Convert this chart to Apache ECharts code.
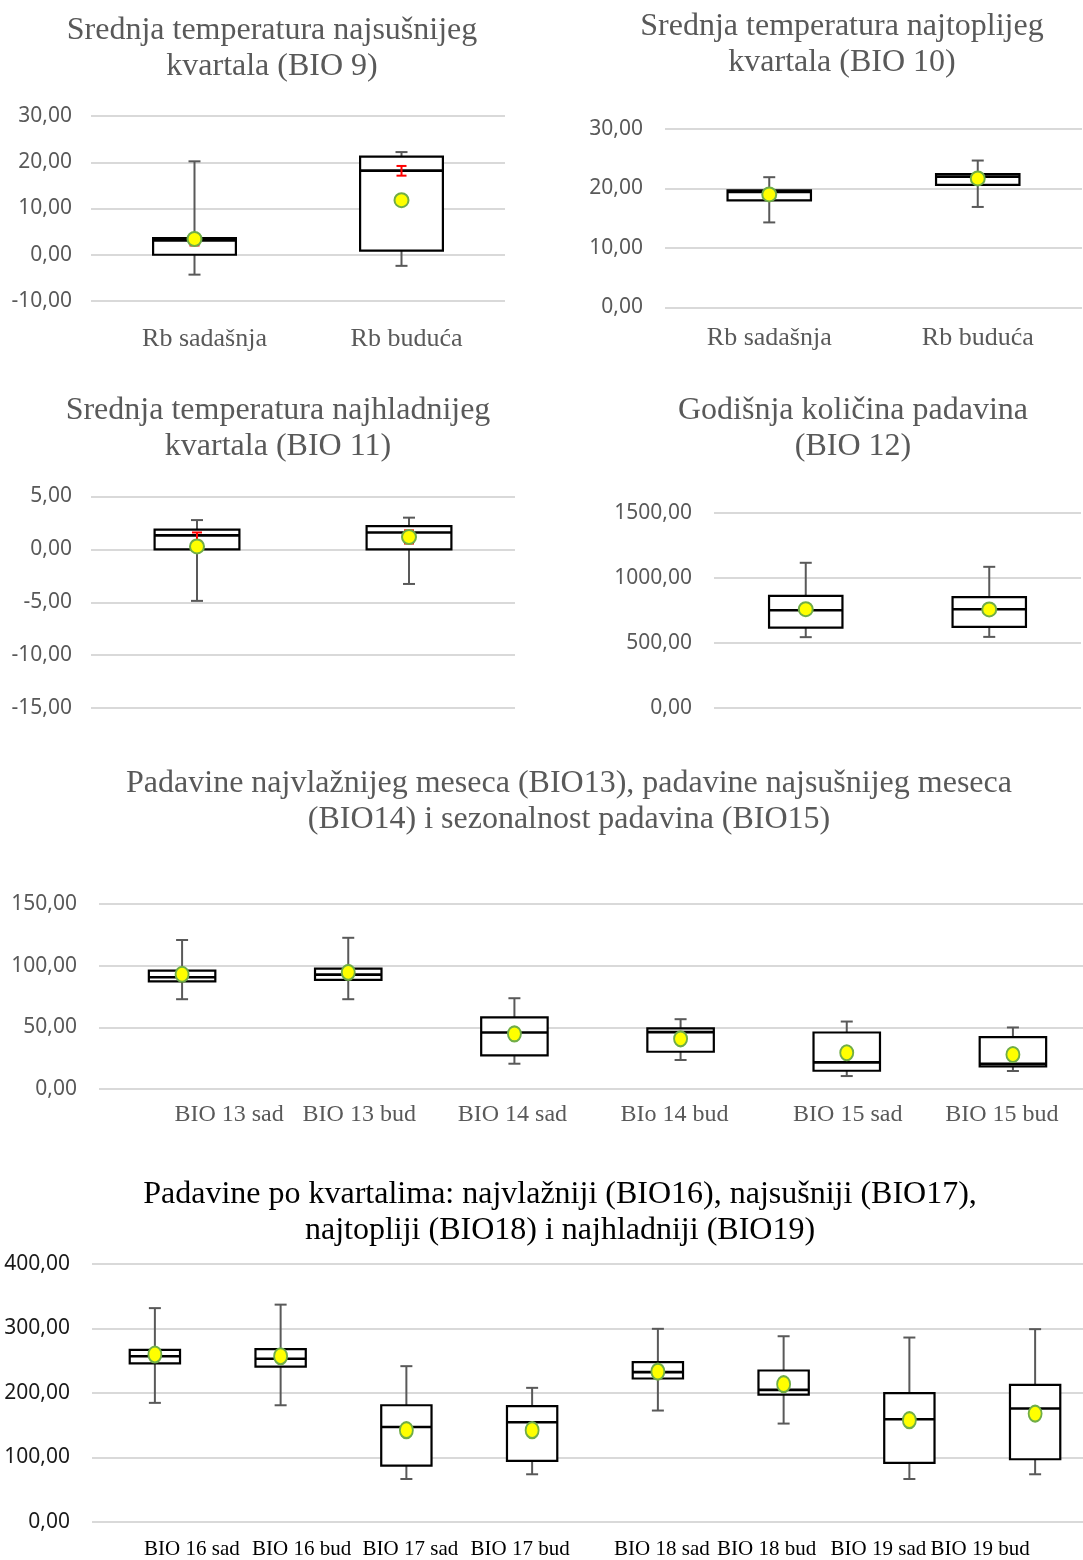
<!DOCTYPE html>
<html><head><meta charset="utf-8">
<script src="https://cdn.jsdelivr.net/npm/echarts@6/dist/echarts.min.js"></script>
<style>html,body{margin:0;padding:0;background:#fff;overflow:hidden}#c{width:1110px;height:1560px}</style>
</head><body><div id="c"></div>
<script>
// ---------- DATA ----------
// box rows: [min, Q1, median, Q3, max]
const bio9Cats = ['Rb sadašnja', 'Rb buduća'];
const bio9Box = [[-4.3, 0.0, 3.1, 3.6, 20.2], [-2.4, 0.9, 18.2, 21.2, 22.2]];
const bio9Mean = [3.4, 11.8];
const bio9Err = [[2.0, 3.0], [17.1, 19.2]];
const bio9Ticks = [-10, 0, 10, 20, 30];

const bio10Cats = ['Rb sadašnja', 'Rb buduća'];
const bio10Box = [[14.3, 18.0, 19.4, 19.7, 21.9], [16.9, 20.6, 22.0, 22.4, 24.7]];
const bio10Mean = [19.0, 21.7];
const bio10Ticks = [0, 10, 20, 30];

const bio11Cats = ['Rb sadašnja', 'Rb buduća'];
const bio11Box = [[-4.87, 0.0, 1.32, 1.86, 2.77], [-3.27, 0.0, 1.6, 2.2, 3.0]];
const bio11Mean = [0.28, 1.17];
const bio11Err = [[0.8, 1.6], [0.55, 1.8]];
const bio11Ticks = [-15, -10, -5, 0, 5];

const bio12Cats = ['Rb sadašnja', 'Rb buduća'];
const bio12Box = [[545, 619, 752, 862, 1117], [547, 624, 760, 853, 1086]];
const bio12Mean = [760, 758];
const bio12Ticks = [0, 500, 1000, 1500];

const bio1315Cats = ['BIO 13 sad', 'BIO 13 bud', 'BIO 14 sad', 'BIo 14 bud', 'BIO 15 sad', 'BIO 15 bud'];
const bio1315Box = [
  [72.8, 87.3, 90.6, 96.0, 120.8],
  [72.8, 88.4, 92.7, 97.6, 122.6],
  [20.5, 27.2, 45.8, 58.0, 73.6],
  [23.5, 30.2, 46.1, 49.1, 56.6],
  [10.5, 14.8, 21.6, 45.8, 54.7],
  [14.6, 18.3, 20.5, 42.0, 49.9]
];
const bio1315Mean = [93.0, 94.6, 44.7, 40.7, 29.4, 28.0];
const bio1315Ticks = [0, 50, 100, 150];

const bio1619Cats = ['BIO 16 sad', 'BIO 16 bud', 'BIO 17 sad', 'BIO 17 bud', 'BIO 18 sad', 'BIO 18 bud', 'BIO 19 sad', 'BIO 19 bud'];
const bio1619Box = [
  [184.7, 246.0, 257.0, 267.0, 331.6],
  [181.0, 241.0, 253.0, 268.0, 337.0],
  [66.7, 87.4, 147.4, 181.0, 241.6],
  [74.0, 94.7, 154.7, 179.5, 208.0],
  [172.8, 222.5, 232.3, 247.8, 299.5],
  [152.6, 197.6, 204.9, 234.9, 288.0],
  [66.7, 91.6, 159.3, 199.7, 286.0],
  [74.0, 97.3, 175.9, 212.6, 299.0]
];
const bio1619Mean = [259.7, 257.0, 142.3, 142.3, 233.3, 213.7, 157.8, 168.1];
const bio1619Ticks = [0, 100, 200, 300, 400];

// ---------- STYLE / RENDER ----------
const GRAY = '#595959';
const SERIF = '"Liberation Serif", "Times New Roman", serif';
const SANS = '"Noto Sans", "Open Sans", sans-serif';
const fmt = v => v.toFixed(2).replace('.', ',');

function boxRender(params, api) {
  const x = api.value(0);
  const p = [1, 2, 3, 4, 5].map(i => api.coord([x, api.value(i)]));
  const band = api.size([1, 0])[0];
  const w = band * 0.4;
  const cx = p[0][0];
  const yMin = p[0][1], yQ1 = p[1][1], yMed = p[2][1], yQ3 = p[3][1], yMax = p[4][1];
  const cap = 12;
  const ws = { stroke: GRAY, lineWidth: 2 };
  return {
    type: 'group', children: [
      { type: 'line', shape: { x1: cx, y1: yMax, x2: cx, y2: yQ3 }, style: ws },
      { type: 'line', shape: { x1: cx - cap / 2, y1: yMax, x2: cx + cap / 2, y2: yMax }, style: ws },
      { type: 'line', shape: { x1: cx, y1: yMin, x2: cx, y2: yQ1 }, style: ws },
      { type: 'line', shape: { x1: cx - cap / 2, y1: yMin, x2: cx + cap / 2, y2: yMin }, style: ws },
      { type: 'rect', shape: { x: cx - w / 2, y: yQ3, width: w, height: yQ1 - yQ3 }, style: { fill: '#fff', stroke: '#000', lineWidth: 2.2 } },
      { type: 'line', shape: { x1: cx - w / 2, y1: yMed, x2: cx + w / 2, y2: yMed }, style: { stroke: '#000', lineWidth: 2.6 } }
    ]
  };
}
function errRender(params, api) {
  const x = api.value(0);
  const lo = api.coord([x, api.value(1)]);
  const hi = api.coord([x, api.value(2)]);
  const cx = lo[0], cap = 10;
  const s = { stroke: '#ff0000', lineWidth: 2 };
  return {
    type: 'group', children: [
      { type: 'line', shape: { x1: cx, y1: lo[1], x2: cx, y2: hi[1] }, style: s },
      { type: 'line', shape: { x1: cx - cap / 2, y1: lo[1], x2: cx + cap / 2, y2: lo[1] }, style: s },
      { type: 'line', shape: { x1: cx - cap / 2, y1: hi[1], x2: cx + cap / 2, y2: hi[1] }, style: s }
    ]
  };
}

const panels = [
  { cats: bio9Cats, box: bio9Box, mean: bio9Mean, err: bio9Err, ticks: bio9Ticks,
    grid: { left: 91, width: 414, top: 116, height: 185 }, xl: { show: true, margin: 25, size: 26, color: GRAY, shift: [10, 5] }, yl: { size: 21, color: GRAY, margin: 19 }, ms: 14 },
  { cats: bio10Cats, box: bio10Box, mean: bio10Mean, err: null, ticks: bio10Ticks,
    grid: { left: 665, width: 417, top: 129, height: 178.5 }, xl: { show: true, margin: 18, size: 26, color: GRAY, shift: [0, 0] }, yl: { size: 21, color: GRAY, margin: 22 }, ms: 14 },
  { cats: bio11Cats, box: bio11Box, mean: bio11Mean, err: bio11Err, ticks: bio11Ticks,
    grid: { left: 91, width: 424, top: 496.5, height: 211.5 }, xl: { show: false }, yl: { size: 21, color: GRAY, margin: 19 }, ms: 14 },
  { cats: bio12Cats, box: bio12Box, mean: bio12Mean, err: null, ticks: bio12Ticks,
    grid: { left: 714, width: 367, top: 513, height: 195 }, xl: { show: false }, yl: { size: 21, color: GRAY, margin: 22 }, ms: 14 },
  { cats: bio1315Cats, box: bio1315Box, mean: bio1315Mean, err: null, ticks: bio1315Ticks,
    grid: { left: 99, width: 997, top: 904, height: 185 }, xl: { show: true, margin: 14, size: 24, color: GRAY, shift: [47, 11, -2, -6, 1, -11] }, yl: { size: 21, color: GRAY, margin: 22 }, ms: [13, 15] },
  { cats: bio1619Cats, box: bio1619Box, mean: bio1619Mean, err: null, ticks: bio1619Ticks,
    grid: { left: 92, width: 1006, top: 1264, height: 258 }, xl: { show: true, margin: 17, size: 21, color: '#000', shift: [37, 21, 4, -12, 4, -17, -31, -55] }, yl: { size: 21, color: '#1a1a1a', margin: 22 }, ms: [13, 16] }
];

const grids = [], xAxes = [], yAxes = [], series = [];
panels.forEach((p, i) => {
  grids.push(Object.assign({ containLabel: false }, p.grid));
  const rich = {};
  const shifts = p.xl.shift || [];
  shifts.forEach((s, k) => {
    rich['o' + k] = {
      fontFamily: SERIF, fontSize: p.xl.size, color: p.xl.color,
      padding: s >= 0 ? [0, 0, 0, 2 * s] : [0, -2 * s, 0, 0]
    };
  });
  xAxes.push({
    type: 'category', gridIndex: i, data: p.cats, boundaryGap: true,
    axisLine: { show: false }, axisTick: { show: false }, splitLine: { show: false },
    axisLabel: {
      show: p.xl.show, margin: p.xl.margin || 0, fontFamily: SERIF, fontSize: p.xl.size || 20,
      color: p.xl.color || GRAY, interval: 0, hideOverlap: false,
      formatter: (val, idx) => '{o' + idx + '|' + val + '}',
      rich: rich
    }
  });
  yAxes.push({
    type: 'value', gridIndex: i,
    min: p.ticks[0], max: p.ticks[p.ticks.length - 1], interval: p.ticks[1] - p.ticks[0],
    axisLine: { show: false }, axisTick: { show: false },
    splitLine: { show: true, lineStyle: { color: '#d9d9d9', width: 2 } },
    axisLabel: { formatter: fmt, margin: p.yl.margin, fontFamily: SANS, fontSize: p.yl.size, color: p.yl.color }
  });
  series.push({
    type: 'custom', xAxisIndex: i, yAxisIndex: i, z: 2,
    renderItem: boxRender,
    encode: { x: 0, y: [1, 2, 3, 4, 5] },
    data: p.box.map((b, k) => [k].concat(b)),
    silent: true
  });
  if (p.err) {
    series.push({
      type: 'custom', xAxisIndex: i, yAxisIndex: i, z: 3,
      renderItem: errRender,
      encode: { x: 0, y: [1, 2] },
      data: p.err.map((e, k) => [k].concat(e)),
      silent: true
    });
  }
  series.push({
    type: 'scatter', xAxisIndex: i, yAxisIndex: i, z: 4,
    symbol: 'circle', symbolSize: p.ms,
    itemStyle: { color: '#ffff00', borderColor: '#70ad47', borderWidth: 2, opacity: 1 },
    data: p.mean.map((m, k) => [k, m]),
    silent: true
  });
});

function title(text, x, y, color) {
  return {
    type: 'text', x: x, y: y,
    style: { text: text, fill: color || GRAY, font: '32px ' + SERIF, textAlign: 'center', textVerticalAlign: 'middle', lineHeight: 36 }
  };
}

const chart = echarts.init(document.getElementById('c'), null, { renderer: 'canvas' });
chart.setOption({
  animation: false,
  backgroundColor: '#fff',
  grid: grids,
  xAxis: xAxes,
  yAxis: yAxes,
  series: series,
  graphic: [
    title('Srednja temperatura najsušnijeg\nkvartala (BIO 9)', 272, 49),
    title('Srednja temperatura najtoplijeg\nkvartala (BIO 10)', 842, 44.5),
    title('Srednja temperatura najhladnijeg\nkvartala (BIO 11)', 278, 429),
    title('Godišnja količina padavina\n(BIO 12)', 853, 429),
    title('Padavine najvlažnijeg meseca (BIO13), padavine najsušnijeg meseca\n(BIO14) i sezonalnost padavina (BIO15)', 569, 802),
    title('Padavine po kvartalima: najvlažniji (BIO16), najsušniji (BIO17),\nnajtopliji (BIO18) i najhladniji (BIO19)', 560, 1213, '#000')
  ]
});
</script>
</body></html>
